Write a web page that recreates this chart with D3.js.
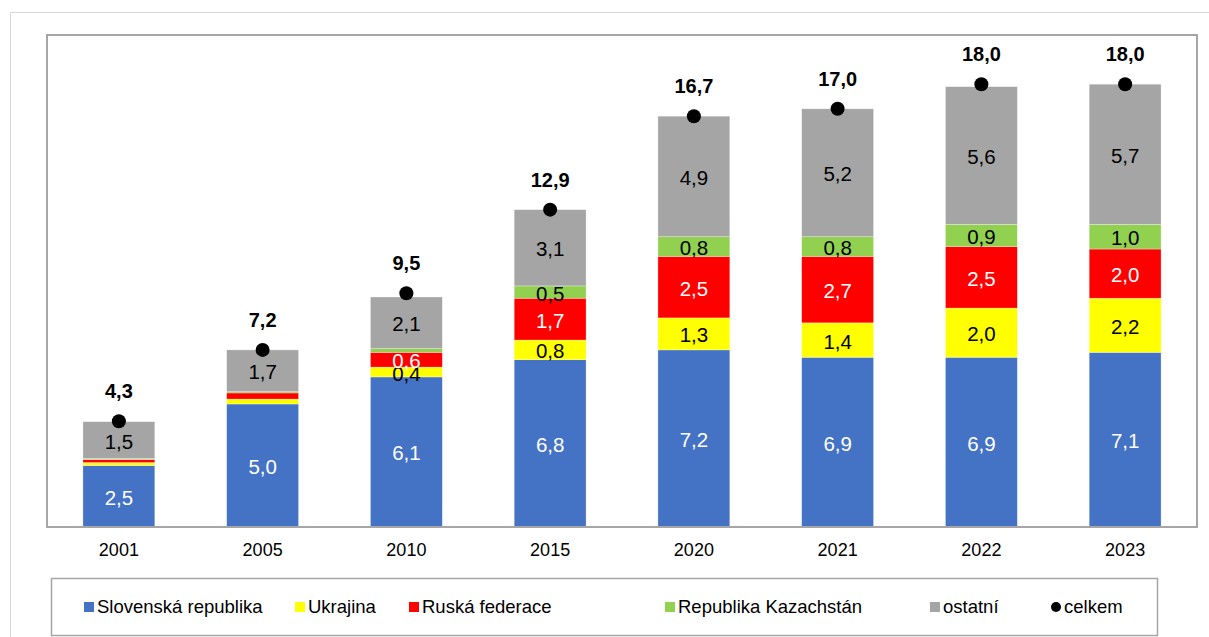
<!DOCTYPE html>
<html lang="cs">
<head>
<meta charset="utf-8">
<title>celkem</title>
<style>
body { margin: 0; font-family: "Liberation Sans", Arial, sans-serif; background: #fff; }
.val { font-size: 20.5px; text-anchor: middle; dominant-baseline: central; }
.tot { font-size: 20px; font-weight: bold; text-anchor: middle; }
.axis text { font-size: 18px; fill: #000; }
.legend { font-size: 18.5px; }
</style>
</head>
<body>
<script src="https://d3js.org/d3.v7.min.js"></script>
<script>

var years = ["2001", "2005", "2010", "2015", "2020", "2021", "2022", "2023"];
var slovensko = [2.5, 5.0, 6.1, 6.8, 7.2, 6.9, 6.9, 7.1];
var ukrajina  = [0.12, 0.2, 0.4, 0.8, 1.3, 1.4, 2.0, 2.2];
var rusko     = [0.12, 0.25, 0.6, 1.7, 2.5, 2.7, 2.5, 2.0];
var kazachstan = [0.04, 0.05, 0.15, 0.5, 0.8, 0.8, 0.9, 1.0];
var ostatni   = [1.5, 1.7, 2.1, 3.1, 4.9, 5.2, 5.6, 5.7];
var celkem    = [4.3, 7.2, 9.5, 12.9, 16.7, 17.0, 18.0, 18.0];

var seriesNames = ["Slovenská republika", "Ukrajina", "Ruská federace", "Republika Kazachstán", "ostatní"];
var seriesValues = [slovensko, ukrajina, rusko, kazachstan, ostatni];
var colors = ["#4472C4", "#FFFF00", "#FF0000", "#92D050", "#A5A5A5"];
var labelColors = ["#fff", "#000", "#fff", "#000", "#000"];

var pLeft = 47, pTop = 35, pRight = 1197, pBottom = 527;

var fmt = function(v) { return d3.format(".1f")(v).replace(".", ","); };

var svg = d3.select("body").append("svg")
    .attr("width", 1209)
    .attr("height", 637);

// outer frame
svg.append("rect")
    .attr("x", 10.5).attr("y", 12.5)
    .attr("width", 1205).attr("height", 640)
    .attr("fill", "none").attr("stroke", "#d9d9d9");

var x = d3.scaleBand().domain(years).range([pLeft, pRight]).paddingInner(0.5).paddingOuter(0.25);
var y = d3.scaleLinear().domain([0, 20]).range([pBottom, pTop]);

// stack
var table = years.map(function(yr, i) {
    var row = { year: yr };
    seriesNames.forEach(function(n, j) { row[n] = seriesValues[j][i]; });
    return row;
});
var stack = d3.stack().keys(seriesNames)(table);

stack.forEach(function(layer, j) {
    svg.append("g").selectAll("rect")
        .data(layer)
        .enter().append("rect")
        .attr("x", function(d) { return x(d.data.year); })
        .attr("width", x.bandwidth())
        .attr("y", function(d) { return y(d[1]); })
        .attr("height", function(d) { return y(d[0]) - y(d[1]); })
        .attr("fill", colors[j])
        .attr("stroke", "#fff")
        .attr("stroke-opacity", 0.5)
        .attr("stroke-width", 0.6);
});

stack.forEach(function(layer, j) {
    svg.append("g").selectAll("text")
        .data(layer.filter(function(d) { return d[1] - d[0] >= 0.35; }))
        .enter().append("text")
        .attr("class", "val")
        .attr("x", function(d) { return x(d.data.year) + x.bandwidth() / 2; })
        .attr("y", function(d) { return y((d[0] + d[1]) / 2) + 1; })
        .attr("fill", labelColors[j])
        .text(function(d) { return fmt(d[1] - d[0]); });
});

// totals
svg.selectAll(".dot")
    .data(celkem)
    .enter().append("circle")
    .attr("class", "dot")
    .attr("cx", function(d, i) { return x(years[i]) + x.bandwidth() / 2; })
    .attr("cy", function(d) { return y(d); })
    .attr("r", 7)
    .attr("fill", "#000");

svg.selectAll(".tot")
    .data(celkem)
    .enter().append("text")
    .attr("class", "tot")
    .attr("x", function(d, i) { return x(years[i]) + x.bandwidth() / 2; })
    .attr("y", function(d) { return y(d) - 23; })
    .text(fmt);

// plot frame
svg.append("rect")
    .attr("x", pLeft).attr("y", pTop)
    .attr("width", pRight - pLeft).attr("height", pBottom - pTop)
    .attr("fill", "none").attr("stroke", "#a6a6a6").attr("stroke-width", 2);

// x axis
var xAxis = svg.append("g")
    .attr("class", "axis")
    .attr("transform", "translate(0," + pBottom + ")")
    .call(d3.axisBottom(x).tickSize(0).tickPadding(16));
xAxis.select(".domain").remove();
xAxis.selectAll("text").attr("font-family", "Liberation Sans, Arial, sans-serif");

// legend
svg.append("rect")
    .attr("x", 51.5).attr("y", 578.5)
    .attr("width", 1106).attr("height", 57)
    .attr("fill", "none").attr("stroke", "#a6a6a6").attr("stroke-width", 1.5);

var legendX = [84, 295, 409, 665, 930, 1051];
var legendNames = seriesNames.concat(["celkem"]);
var lg = svg.selectAll(".lg")
    .data(legendNames)
    .enter().append("g")
    .attr("class", "lg")
    .attr("transform", function(d, i) { return "translate(" + legendX[i] + ",607)"; });

lg.each(function(d, i) {
    var g = d3.select(this);
    if (i < 5) {
        g.append("rect").attr("x", 0).attr("y", -5).attr("width", 10).attr("height", 10).attr("fill", colors[i]);
    } else {
        g.append("circle").attr("cx", 5).attr("cy", 0).attr("r", 5).attr("fill", "#000");
    }
    g.append("text")
        .attr("class", "legend")
        .attr("x", 13)
        .attr("dy", "0.35em")
        .text(d);
});

</script>
</body>
</html>
